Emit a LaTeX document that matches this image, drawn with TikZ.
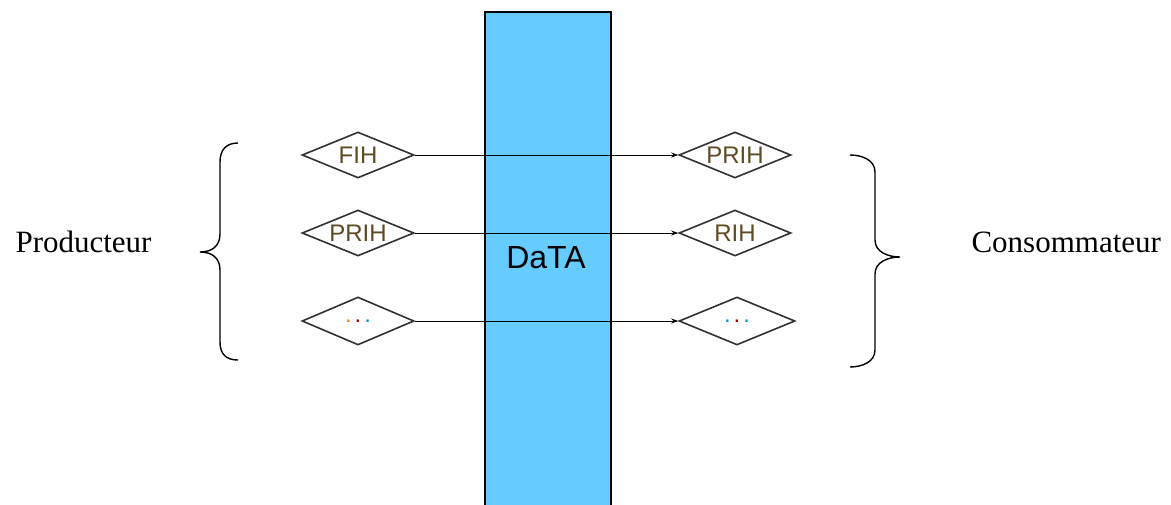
\documentclass[tikz,border=0pt]{standalone}
\usepackage{fontspec}
\setmainfont{Liberation Serif}
\newfontfamily\arialf{Liberation Sans}
\usetikzlibrary{shapes.geometric,arrows.meta}
\definecolor{databg}{HTML}{66CCFF}
\definecolor{labtxt}{RGB}{95,75,35}
\definecolor{diaedge}{RGB}{50,50,50}
\tikzset{
  dia/.style={diamond, draw=diaedge, line width=1.6pt, fill=white, minimum width=112pt, minimum height=46pt, inner sep=0pt,
    label={[font=\arialf\fontsize{24}{24}\selectfont, text=labtxt]center:#1}},
  flow/.style={draw=black, line width=1pt, -{Stealth[length=7pt,width=5pt]}},
  bracel/.style={draw=black, line width=1.4pt},
  side/.style={font=\fontsize{31}{31}\selectfont, anchor=base west},
}
\newcommand{\dotsA}{\textcolor{orange}{.}\hspace{3pt}\textcolor{red!70!black}{.}\hspace{3pt}\textcolor{cyan!80!blue}{.}}
\newcommand{\dotsB}{\textcolor{cyan!80!blue}{.}\hspace{3pt}\textcolor{red!70!black}{.}\hspace{3pt}\textcolor{cyan!80!blue}{.}}
\begin{document}
\begin{tikzpicture}[x=1pt,y=-1pt]
\useasboundingbox (0,0) rectangle (1171,504);
% data bar
\draw[fill=databg, draw=black, line width=1.5pt] (485,12) rectangle (611,520);
\node[font=\arialf\fontsize{32}{32}\selectfont, anchor=base] (data) at (546,268) {DaTA};
% diamonds
\node[dia=FIH] (p1) at (358,155) {};
\node[dia=PRIH] (p2) at (358,233) {};
\node[dia=\dotsA, minimum height=48pt] (p3) at (358,321) {};
\node[dia=PRIH] (c1) at (735,155) {};
\node[dia=RIH] (c2) at (735,233) {};
\node[dia=\dotsB, minimum width=116pt, minimum height=48pt] (c3) at (737,321) {};
% connectors
\draw[flow] (p1.east) -- (c1.west);
\draw[flow] (p2.east) -- (c2.west);
\draw[flow] (p3.east) -- (c3.west);
% braces
\draw[bracel] (238,143) .. controls (226,143) and (220,150) .. (220,162) -- (220,234)
  .. controls (220,246) and (212,252) .. (200,252)
  .. controls (212,252) and (220,258) .. (220,270) -- (220,342)
  .. controls (220,354) and (226,360) .. (238,360);
\draw[bracel] (850,155) .. controls (862,155) and (875,160) .. (875,172) -- (875,240)
  .. controls (875,252) and (888,257) .. (900,257)
  .. controls (888,257) and (875,262) .. (875,274) -- (875,350)
  .. controls (875,362) and (862,367) .. (850,367);
% side labels
\node[side] (prod) at (12,252) {Producteur};
\node[side] (cons) at (968,252) {Consommateur};
\end{tikzpicture}
\end{document}
